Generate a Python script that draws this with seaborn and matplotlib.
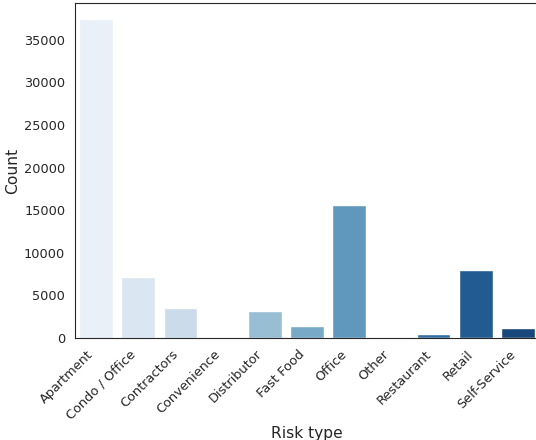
import seaborn as sns
import matplotlib.pyplot as plt
import pandas as pd

risk_types = ['Apartment', 'Condo / Office', 'Contractors', 'Convenience',
              'Distributor', 'Fast Food', 'Office', 'Other', 'Restaurant',
              'Retail', 'Self-Service']
counts = [37450, 7200, 3520, 40, 3200, 1420, 15600, 150, 430, 7950, 1180]

df = pd.DataFrame({'Risk type': risk_types, 'Count': counts})

sns.set_style("white")
fig = plt.figure(figsize=(5.36, 4.4), dpi=100)
ax = fig.add_axes([75 / 536, 102 / 440, 464 / 536, 335 / 440])

sns.barplot(x='Risk type', y='Count', data=df, hue='Risk type',
            palette='Blues', legend=False, ax=ax)
ax.set_xlabel("Risk type", fontsize=11.2, labelpad=3)
ax.set_ylabel("Count", fontsize=11.2, labelpad=3)
ax.tick_params(axis='both', labelsize=9.3)
plt.setp(ax.get_xticklabels(), rotation=45, ha='right')

plt.savefig("out.png", dpi=100)
